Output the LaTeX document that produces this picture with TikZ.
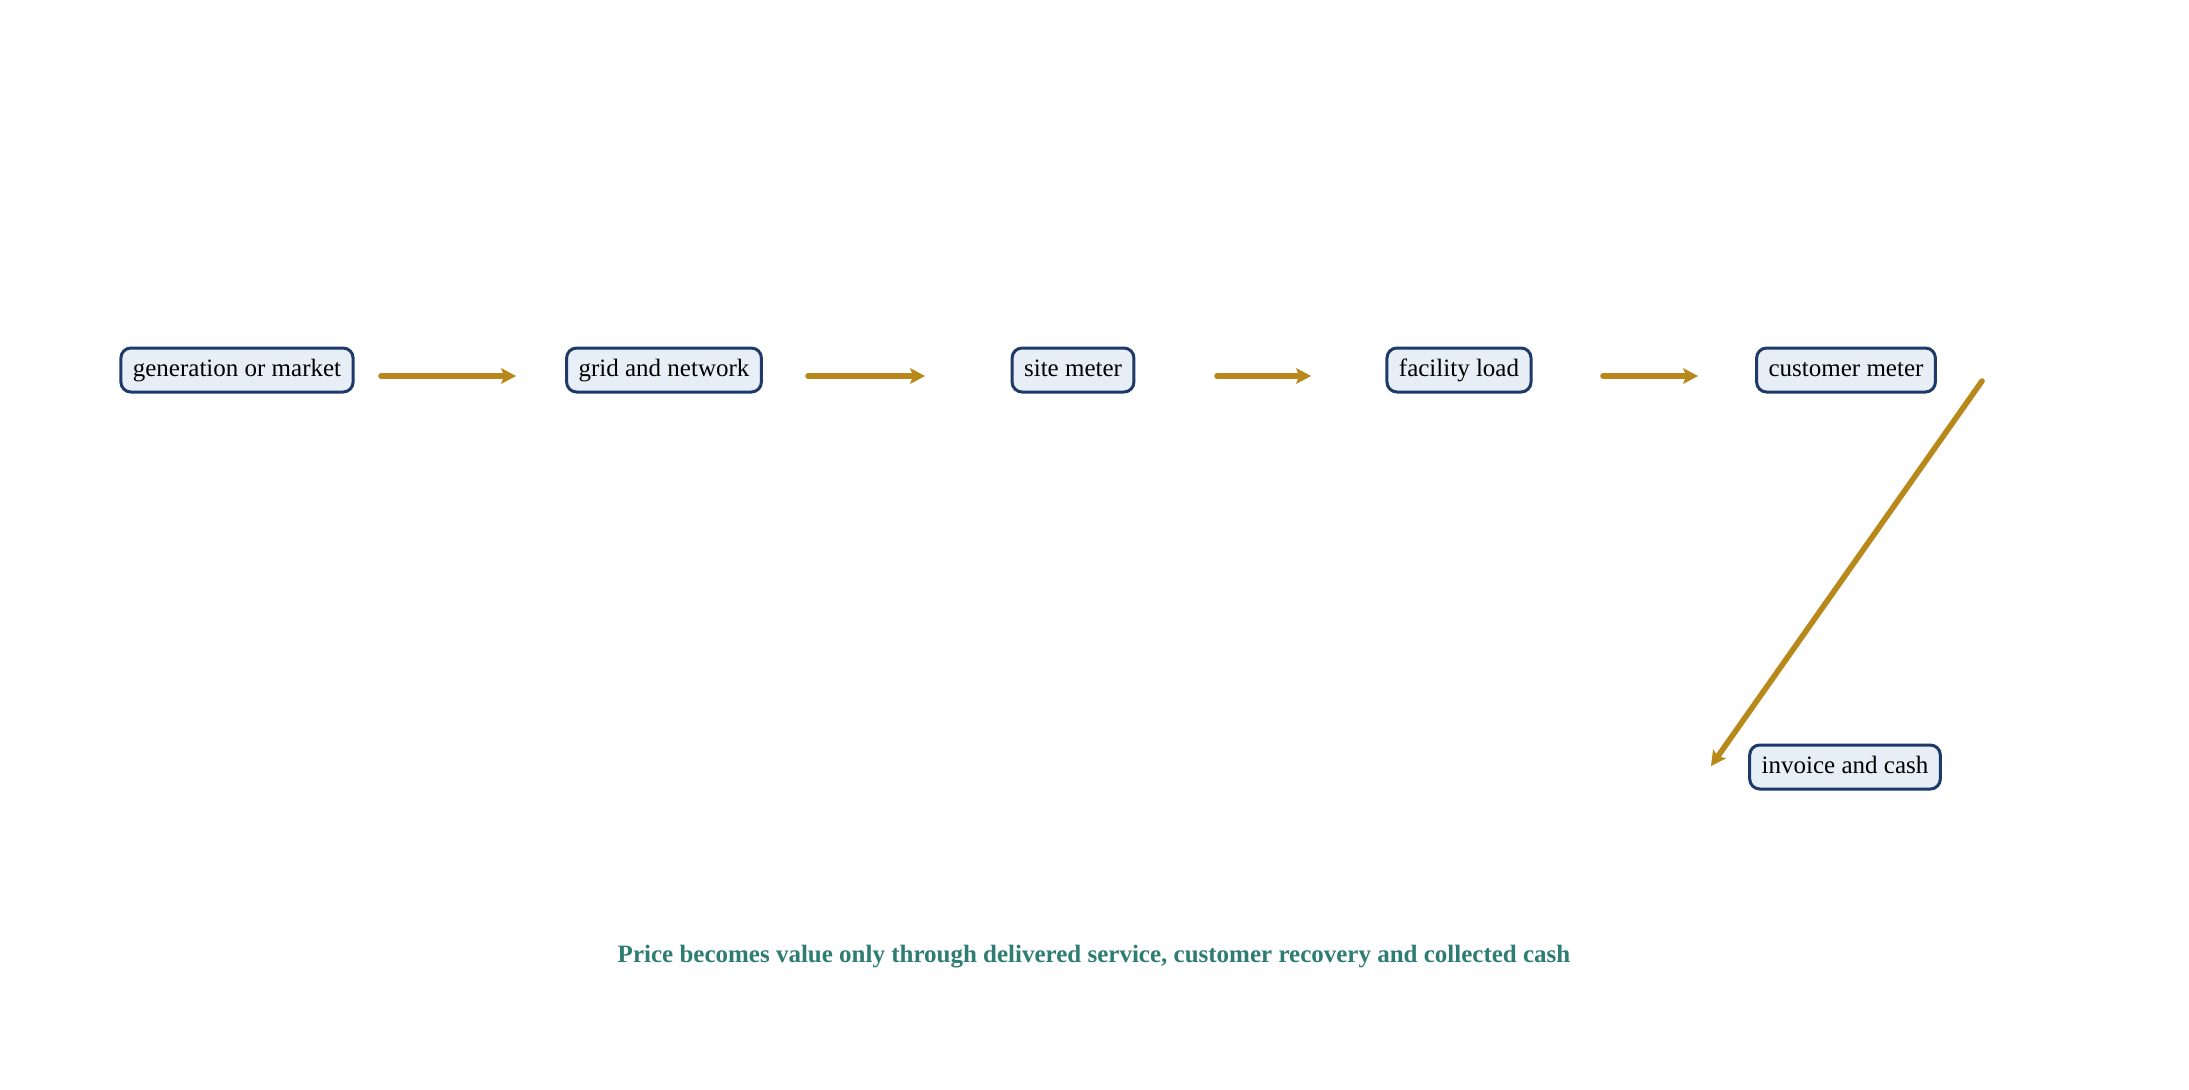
\documentclass[tikz,border=0pt]{standalone}
\usepackage{fontspec}
\setmainfont{Liberation Serif}
\usetikzlibrary{arrows.meta}
\definecolor{boxedge}{RGB}{30,58,105}
\definecolor{boxfill}{RGB}{232,238,246}
\definecolor{arrowgold}{RGB}{184,137,26}
\definecolor{captionteal}{RGB}{46,125,115}
\tikzset{
  stage/.style={draw=boxedge, fill=boxfill, line width=1.5pt, rounded corners=5pt,
    inner xsep=6pt, inner ysep=0pt, minimum height=22pt, text height=9pt, text depth=3pt,
    font=\fontsize{12.5pt}{14pt}\selectfont},
  flow/.style={draw=arrowgold, line width=2.8pt, line cap=round,
    -{Stealth[length=7.5pt,width=8pt,inset=1.5pt,line width=0pt]}},
  caption/.style={text=captionteal, font=\fontsize{12.5pt}{14pt}\selectfont\bfseries}
}
\begin{document}
\begin{tikzpicture}[x=0.5pt,y=-0.5pt]
\useasboundingbox (0,0) rectangle (2189,1089);
\node[stage] (gen) at (237,370) {generation or market};
\node[stage] (grid) at (664,370) {grid and network};
\node[stage] (site) at (1073,370) {site meter};
\node[stage] (fac) at (1459,370) {facility load};
\node[stage] (cust) at (1846,370) {customer meter};
\node[stage] (inv) at (1845,767) {invoice and cash};
\node[caption] (cap) at (1094,957) {Price becomes value only through delivered service, customer recovery and collected cash};
\foreach \a/\b in {gen/grid, grid/site, site/fac, fac/cust}{
  \draw[flow, shorten <=72pt, shorten >=74pt] ([yshift=-3pt]\a.center) -- ([yshift=-3pt]\b.center);
}
\draw[flow] ([xshift=68pt,yshift=-5.5pt]cust.center) -- ([xshift=-67pt,yshift=0.5pt]inv.center);
\end{tikzpicture}
\end{document}
